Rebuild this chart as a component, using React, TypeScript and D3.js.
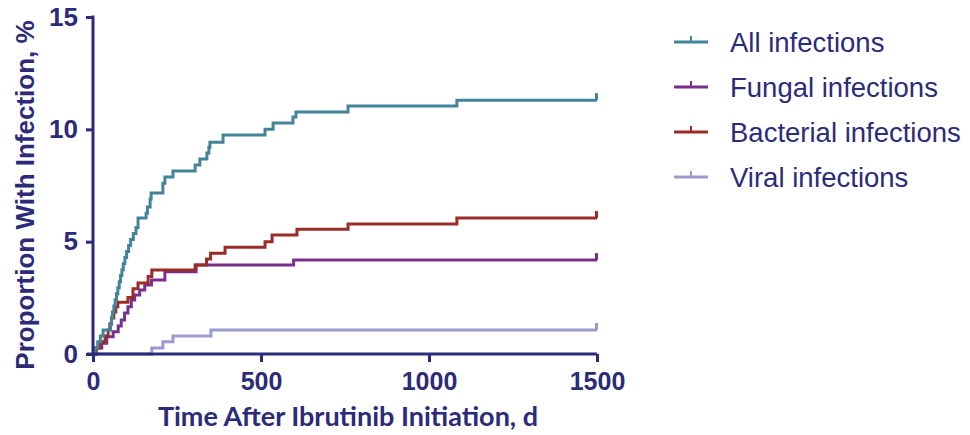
import React, { useEffect, useRef } from "react"
import * as d3 from "d3"

// cumulative incidence, step points [day, %]
const allInfections = [
  [0, 0], [6, 0.27], [14, 0.54], [22, 0.8], [30, 1.07], [52, 1.34], [55, 1.6], [58, 1.87], [62, 2.14],
  [66, 2.41], [70, 2.68], [74, 2.95], [78, 3.22], [82, 3.49], [86, 3.75], [90, 4.02], [95, 4.29],
  [100, 4.56], [106, 4.83], [112, 5.1], [120, 5.36], [128, 5.63], [134, 6.05], [158, 6.27], [162, 6.54],
  [170, 6.9], [173, 7.17], [208, 7.6], [214, 7.88], [238, 8.14], [304, 8.41], [318, 8.68], [339, 8.95],
  [345, 9.2], [348, 9.43], [387, 9.75], [512, 10.0], [536, 10.28], [595, 10.55], [604, 10.77],
  [759, 11.04], [1083, 11.3],
]
const fungalInfections = [
  [0, 0], [10, 0.27], [26, 0.48], [41, 0.77], [60, 0.99], [75, 1.25], [84, 1.51], [94, 1.82],
  [104, 2.1], [114, 2.4], [124, 2.63], [139, 2.85], [154, 3.07], [174, 3.29], [214, 3.66],
  [307, 3.96], [597, 4.18],
]
const bacterialInfections = [
  [0, 0], [9, 0.27], [21, 0.54], [36, 0.8], [45, 1.07], [50, 1.34], [55, 1.6], [62, 1.87], [68, 2.1],
  [74, 2.3], [104, 2.52], [119, 2.9], [134, 3.16], [164, 3.45], [175, 3.74], [304, 3.96], [338, 4.23],
  [350, 4.48], [393, 4.75], [512, 5.0], [533, 5.3], [607, 5.55], [759, 5.79], [1083, 6.05],
]
const viralInfections = [
  [0, 0], [175, 0.27], [208, 0.54], [238, 0.8], [351, 1.07],
]

const seriesNames = ["All infections", "Fungal infections", "Bacterial infections", "Viral infections"]
const seriesData = [allInfections, fungalInfections, bacterialInfections, viralInfections]
const seriesColors = ["#43849a", "#7a2f8c", "#9a2b27", "#9c9bd0"]
const xTicks = [0, 500, 1000, 1500]
const yTicks = [0, 5, 10, 15]
const maxDay = 1500

const navy = "#2c2b79"

export default function App() {
  const ref = useRef<SVGSVGElement>(null)

  useEffect(() => {
    const svg = d3.select(ref.current)
    svg.selectAll("*").remove()

    const xScale = d3.scaleLinear().domain([0, 1500]).range([93, 597])
    const yScale = d3.scaleLinear().domain([0, 15]).range([354, 17])

    // curves
    const line = d3.line<number[]>()
      .x(d => xScale(d[0]))
      .y(d => yScale(d[1]))
      .curve(d3.curveStepAfter)

    const order = [3, 1, 2, 0]
    order.forEach(i => {
      const pts = seriesData[i].concat([[maxDay, seriesData[i][seriesData[i].length - 1][1]]])
      svg.append("path")
        .attr("d", line(pts))
        .attr("fill", "none")
        .attr("stroke", seriesColors[i])
        .attr("stroke-width", 3)
        .attr("stroke-linejoin", "miter")
      // censor tick at the end
      const last = pts[pts.length - 1]
      svg.append("line")
        .attr("x1", xScale(last[0]) - 0.5).attr("x2", xScale(last[0]) - 0.5)
        .attr("y1", yScale(last[1])).attr("y2", yScale(last[1]) - 7)
        .attr("stroke", seriesColors[i])
        .attr("stroke-width", 3)
    })

    // axes
    const xAxis = d3.axisBottom(xScale).tickValues(xTicks).tickFormat(d3.format("d"))
      .tickSize(8).tickSizeOuter(0).tickPadding(10)
    const gx = svg.append("g").attr("transform", "translate(0,354)").call(xAxis)
    gx.select(".domain").attr("stroke", navy).attr("stroke-width", 3).attr("d", "M87,0H597")
    gx.selectAll(".tick line").attr("stroke", navy).attr("stroke-width", 3)
    gx.selectAll(".tick text")
      .attr("fill", navy)
      .attr("font-family", "Liberation Sans, Arial, sans-serif")
      .attr("font-weight", "bold")
      .attr("font-size", 25)

    const yAxis = d3.axisLeft(yScale).tickValues(yTicks).tickSize(7).tickSizeOuter(0).tickPadding(8)
    const gy = svg.append("g").attr("transform", "translate(93,0)").call(yAxis)
    gy.select(".domain").attr("stroke", navy).attr("stroke-width", 3).attr("d", "M0,15.5V355.5")
    gy.selectAll(".tick line").attr("stroke", navy).attr("stroke-width", 3)
    gy.selectAll(".tick text")
      .attr("fill", navy)
      .attr("font-family", "Liberation Sans, Arial, sans-serif")
      .attr("font-weight", "bold")
      .attr("font-size", 26)

    // axis titles
    svg.append("text")
      .attr("x", 348).attr("y", 426)
      .attr("text-anchor", "middle")
      .attr("fill", navy)
      .attr("font-family", "Lato, Open Sans, sans-serif")
      .attr("font-weight", "bold")
      .attr("font-size", 27)
      .text("Time After Ibrutinib Initiation, d")

    svg.append("text")
      .attr("transform", "translate(34,195) rotate(-90)")
      .attr("text-anchor", "middle")
      .attr("fill", navy)
      .attr("font-family", "Liberation Sans, Arial, sans-serif")
      .attr("font-weight", "bold")
      .attr("font-size", 26)
      .text("Proportion With Infection, %")

    // legend
    const legend = svg.append("g").attr("transform", "translate(674,42)")
    seriesNames.forEach((name, i) => {
      const g = legend.append("g").attr("transform", `translate(0,${i * 45})`)
      g.append("line").attr("x1", 0).attr("x2", 34).attr("y1", 0).attr("y2", 0)
        .attr("stroke", seriesColors[i]).attr("stroke-width", 3)
      g.append("line").attr("x1", 17).attr("x2", 17).attr("y1", 0).attr("y2", -6)
        .attr("stroke", seriesColors[i]).attr("stroke-width", 2)
      g.append("text")
        .attr("x", 56).attr("y", 10)
        .attr("fill", navy)
        .attr("font-family", "Liberation Sans, Arial, sans-serif")
        .attr("font-size", 27.5)
        .text(name)
    })
  }, [])

  return (
    <svg ref={ref} width={970} height={435}
      style={{ position: "absolute", left: 0, top: 0, background: "#fff" }} />
  )
}
